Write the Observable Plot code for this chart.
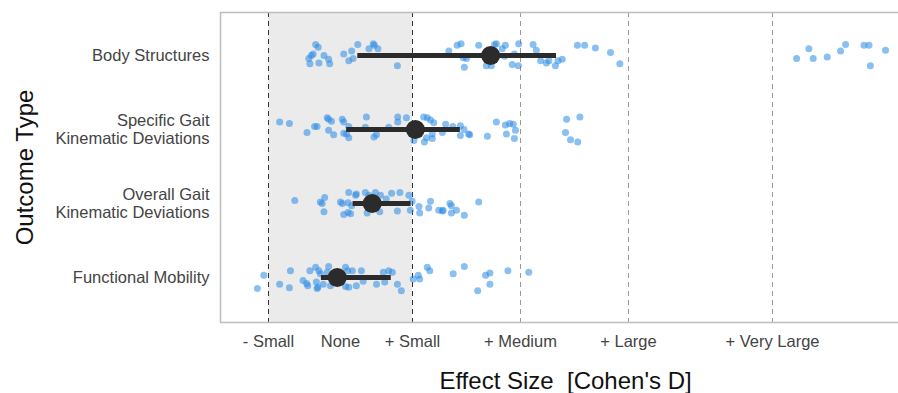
<!DOCTYPE html>
<html>
<head>
<meta charset="utf-8">
<script src="https://cdn.jsdelivr.net/npm/d3@7"></script>
<script src="https://cdn.jsdelivr.net/npm/@observablehq/plot@0.6"></script>
<style>
  html, body { margin: 0; padding: 0; background: #fff; }
  #chart { width: 898px; height: 393px; }
</style>
</head>
<body>
<div id="chart"></div>
<script>
// Categories (bottom to top)
const categories = ["Functional Mobility", "Overall Gait\nKinematic Deviations", "Specific Gait\nKinematic Deviations", "Body Structures"];

// Summary estimates (Cohen's d) with intervals
const means = [-0.009, 0.088, 0.208, 0.417];
const lows  = [-0.053, 0.035, 0.017, 0.048];
const highs = [0.141, 0.196, 0.333, 0.600];

// Individual effect sizes and their vertical jitter (in row units) per category
const bodyD = [-0.069,-0.062,-0.076,-0.081,-0.088,-0.085,-0.060,-0.046,-0.033,-0.030,0.009,0.023,0.031,0.035,0.048,0.079,0.091,0.094,0.104,0.158,0.301,0.324,0.335,0.341,0.344,0.350,0.384,0.405,0.419,0.428,0.433,0.449,0.458,0.456,0.483,0.477,0.494,0.495,0.535,0.544,0.556,0.572,0.579,0.597,0.604,0.616,0.658,0.678,0.708,0.750,0.776,1.267,1.301,1.313,1.352,1.389,1.403,1.454,1.468,1.472,1.514];
const bodyJ = [0.15,0.11,0.02,0,-0.04,-0.11,-0.10,0,-0.05,-0.11,0.02,-0.07,0.06,-0.04,0.15,0.09,0.16,0.14,0.09,-0.14,0.06,0.14,0.16,-0.03,-0.16,-0.04,0.14,-0.14,-0.14,0.15,0.16,0.09,0.14,-0.01,0.02,-0.12,-0.14,0.16,0.15,0.07,-0.07,-0.10,-0.07,-0.14,-0.07,-0.05,0.14,0.14,0.10,0.04,-0.11,-0.04,0.09,-0.04,-0.02,0.06,0.15,0.14,0.14,-0.14,0.07];

const specD = [-0.169,-0.142,-0.093,-0.072,-0.065,-0.037,-0.033,-0.025,-0.033,-0.019,0.005,0.009,0.009,0.017,0.023,0.023,0.072,0.069,0.093,0.100,0.134,0.159,0.159,0.183,0.204,0.231,0.241,0.250,0.259,0.233,0.239,0.255,0.255,0.283,0.292,0.312,0.333,0.343,0.333,0.356,0.359,0.408,0.433,0.458,0.470,0.480,0.486,0.461,0.483,0.628,0.665,0.625,0.639,0.659];
const specJ = [0.10,0.08,-0.04,0.04,0.04,0.16,0.14,0.11,-0.01,-0.07,0.14,0.10,-0.05,-0.06,-0.11,0.04,0.17,0.03,-0.10,-0.07,0.03,0.17,0.10,0.16,-0.15,0.17,0.16,0.13,0.09,-0.17,-0.11,-0.12,-0.06,-0.04,0.07,0.04,0.05,0,-0.08,-0.06,-0.07,-0.09,0.10,0.06,0.08,0.07,-0.01,-0.06,-0.12,0.14,0.17,-0.04,-0.14,-0.17];

const overD = [-0.127,-0.056,-0.044,-0.051,-0.046,0,0.005,0.021,0.023,0.042,0.044,0.009,0.021,0.028,0.031,0.069,0.079,0.097,0.111,0.074,0.109,0.127,0.142,0.165,0.158,0.190,0.199,0.194,0.218,0.220,0.250,0.245,0.273,0.285,0.283,0.304,0.308,0.308,0.322,0.344,0.384];
const overJ = [0.04,0.02,0.08,0,-0.11,0.02,0,0.01,0.15,0.11,0.13,-0.15,-0.12,-0.14,-0.03,0.15,0.11,0.15,0.11,-0.13,-0.11,0.06,0.14,0.15,-0.10,0.11,0.03,-0.09,-0.04,-0.13,0.03,-0.06,-0.09,-0.09,-0.10,0,-0.03,-0.13,-0.09,-0.16,0.02];

const funcD = [-0.231,-0.213,-0.169,-0.142,-0.139,-0.104,-0.091,-0.094,-0.085,-0.069,-0.060,-0.056,-0.067,-0.065,-0.063,-0.048,-0.033,-0.037,-0.028,0.014,0.020,0.033,0.014,0.023,0.044,0.058,0.063,0.100,0.123,0.119,0.134,0.144,0.158,0.169,0.202,0.216,0.220,0.241,0.248,0.313,0.344,0.381,0.403,0.415,0.415,0.465,0.523];
const funcJ = [-0.15,0.03,-0.09,-0.14,0.09,-0.04,-0.11,-0.08,0.09,0.14,0.09,0.05,-0.06,-0.15,-0.13,-0.09,0.15,0.07,-0.11,0.14,0.09,0.09,-0.12,-0.13,-0.11,0.09,-0.05,-0.09,-0.06,0.07,0.09,0.07,-0.09,-0.18,-0.02,0.03,-0.02,0.14,0.09,0.05,0.15,-0.18,0.03,0.06,-0.09,0.09,0.07];

// Axis ticks
const xTicks = [-0.2, 0, 0.2, 0.5, 0.8, 1.2];
const xTickLabels = ["- Small", "None", "+ Small", "+ Medium", "+ Large", "+ Very Large"];
const minorRefs = [0.5, 0.8, 1.2];
const majorRefs = [-0.2, 0.2];

// Build tables
const groups = [[funcD, funcJ], [overD, overJ], [specD, specJ], [bodyD, bodyJ]];
const points = groups.flatMap(([ds, js], i) => ds.map((d, k) => ({d, y: i + js[k]})));
const summary = categories.map((c, i) => ({i, mean: means[i], lo: lows[i], hi: highs[i]}));

const xDomain = [-1/3, 1.55];
const yDomain = [-0.608, 3.581];
const font = "'Liberation Sans', Arial, sans-serif";

const plot = Plot.plot({
  width: 898,
  height: 393,
  marginLeft: 220,
  marginRight: 0,
  marginTop: 12,
  marginBottom: 71,
  style: {fontFamily: font, background: "#fff", overflow: "visible"},
  x: {domain: xDomain},
  y: {domain: yDomain},
  marks: [
    Plot.rect([{a: -0.2, b: 0.2}], {x1: "a", x2: "b", fill: "#ebebeb"}),
    Plot.ruleX(minorRefs, {stroke: "#9a9a9a", strokeWidth: 1, strokeDasharray: "5,4"}),
    Plot.ruleX(majorRefs, {stroke: "#333", strokeWidth: 1, strokeDasharray: "5,4"}),
    Plot.ruleX([xDomain[0]], {stroke: "#bdbdbd", strokeWidth: 1.5}),
    Plot.ruleY([yDomain[0], yDomain[1]], {stroke: "#bdbdbd", strokeWidth: 1.5}),
    Plot.dot(points, {x: "d", y: "y", r: 3.5, fill: "#2a8ae6", fillOpacity: 0.55, stroke: "none"}),
    Plot.ruleY(summary, {y: "i", x1: "lo", x2: "hi", stroke: "#2b2b2b", strokeWidth: 5}),
    Plot.dot(summary, {x: "mean", y: "i", r: 9.5, fill: "#2b2b2b", stroke: "none"}),
    Plot.axisX({ticks: xTicks, tickFormat: (d) => xTickLabels[xTicks.indexOf(d)], tickSize: 0, tickPadding: 13, fontSize: 16.5, fill: "#444", label: null}),
    Plot.axisY({ticks: [0, 1, 2, 3], tickFormat: (d) => categories[d], tickSize: 0, tickPadding: 11, fontSize: 16.5, fill: "#444", lineHeight: 1.1, label: null}),
    Plot.text(["Effect Size\u00a0 [Cohen's D]"], {frameAnchor: "bottom", dy: 59, dx: 6, fontSize: 24, fill: "#111", textAnchor: "middle", lineAnchor: "middle"}),
    Plot.text(["Outcome Type"], {frameAnchor: "left", dx: -195, rotate: -90, fontSize: 24, fill: "#111", textAnchor: "middle", lineAnchor: "middle"})
  ]
});
document.getElementById("chart").appendChild(plot);
</script>
</body>
</html>
